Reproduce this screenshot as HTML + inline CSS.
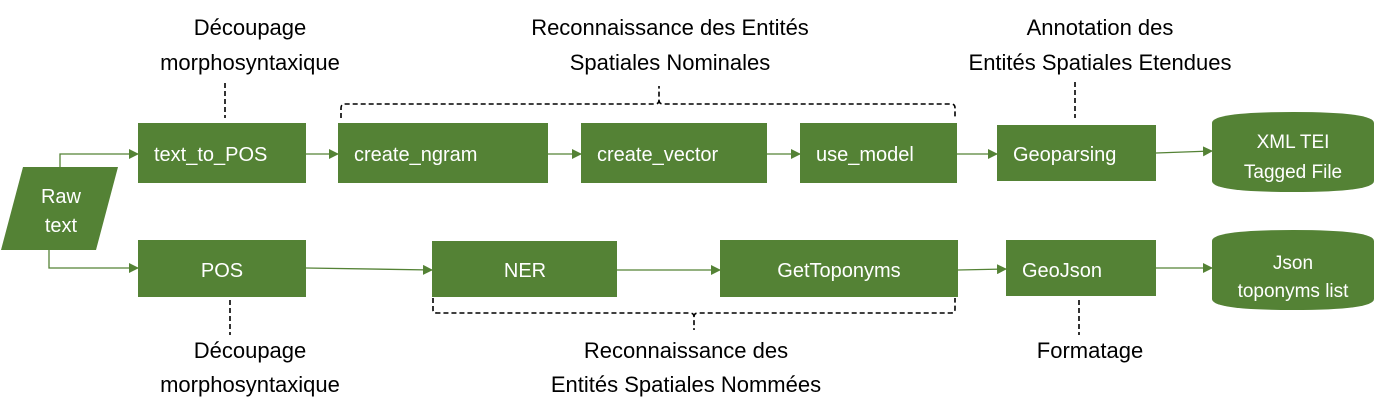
<!DOCTYPE html>
<html><head><meta charset="utf-8"><style>
html,body{margin:0;padding:0;background:#fff;}
svg{display:block;}
text{font-family:"Liberation Sans",sans-serif;}
.b{fill:#548235;}
.w{fill:#fff;font-size:20px;}
.l{fill:#000;font-size:22px;text-anchor:middle;}
.c{stroke:#548235;stroke-width:1.3;fill:none;}
.d{stroke:#000;stroke-width:1.6;fill:none;stroke-dasharray:5,3;}
</style></head><body>
<svg width="1374" height="419" viewBox="0 0 1374 419">
<defs><marker id="a" markerWidth="10" markerHeight="10" refX="9" refY="5" orient="auto" markerUnits="userSpaceOnUse"><path d="M0,0 L10,5 L0,10 Z" fill="#548235"/></marker></defs>
<text class="l" x="250" y="35">Découpage</text>
<text class="l" x="250" y="70">morphosyntaxique</text>
<text class="l" x="670" y="35">Reconnaissance des Entités</text>
<text class="l" x="670" y="70">Spatiales Nominales</text>
<text class="l" x="1100" y="35">Annotation des</text>
<text class="l" x="1100" y="70">Entités Spatiales Etendues</text>
<text class="l" x="250" y="358">Découpage</text>
<text class="l" x="250" y="392">morphosyntaxique</text>
<text class="l" x="686" y="358">Reconnaissance des</text>
<text class="l" x="686" y="392">Entités Spatiales Nommées</text>
<text class="l" x="1090" y="358">Formatage</text>
<path class="d" d="M225,83 V118"/>
<path class="d" d="M1075,82 V118"/>
<path class="d" d="M230,300 V335"/>
<path class="d" d="M1079,300 V335"/>
<path class="d" d="M341,118 V108 Q341,104 345,104 H655 Q659,104 659,100 V86 M659,100 Q659,104 663,104 H951 Q955,104 955,108 V118"/>
<path class="d" d="M433,298 V310 Q433,313 437,313 H690 Q694,313 694,317 V330 M694,317 Q694,313 698,313 H951 Q955,313 955,309 V298"/>
<path class="c" d="M60,167 V154 H138" marker-end="url(#a)"/>
<path class="c" d="M49,250 V268 H138" marker-end="url(#a)"/>
<path class="c" d="M306,154 H338" marker-end="url(#a)"/>
<path class="c" d="M548,154 H581" marker-end="url(#a)"/>
<path class="c" d="M767,154 H800" marker-end="url(#a)"/>
<path class="c" d="M957,154 H997" marker-end="url(#a)"/>
<path class="c" d="M1156,153 L1212,151" marker-end="url(#a)"/>
<path class="c" d="M306,268 L432,270" marker-end="url(#a)"/>
<path class="c" d="M617,270 L720,270" marker-end="url(#a)"/>
<path class="c" d="M958,270 L1006,269" marker-end="url(#a)"/>
<path class="c" d="M1156,268 H1212" marker-end="url(#a)"/>
<polygon class="b" points="23,167 118,167 96,250 1,250"/>
<text class="w" x="61" y="203" text-anchor="middle">Raw</text>
<text class="w" x="61" y="232" text-anchor="middle">text</text>
<rect class="b" x="138" y="123" width="168" height="60"/><text class="w" x="154" y="161">text_to_POS</text>
<rect class="b" x="338" y="123" width="210" height="60"/><text class="w" x="354" y="161">create_ngram</text>
<rect class="b" x="581" y="123" width="186" height="60"/><text class="w" x="597" y="161">create_vector</text>
<rect class="b" x="800" y="123" width="157" height="60"/><text class="w" x="816" y="161">use_model</text>
<rect class="b" x="997" y="125" width="159" height="56"/><text class="w" x="1013" y="161">Geoparsing</text>
<rect class="b" x="138" y="240" width="168" height="57"/><text class="w" x="222" y="277" text-anchor="middle">POS</text>
<rect class="b" x="432" y="241" width="185" height="56"/><text class="w" x="525" y="277" text-anchor="middle">NER</text>
<rect class="b" x="720" y="240" width="238" height="57"/><text class="w" x="839" y="277" text-anchor="middle">GetToponyms</text>
<rect class="b" x="1006" y="240" width="150" height="56"/><text class="w" x="1022" y="277">GeoJson</text>
<path class="b" d="M1212,123 Q1212,112 1293,112 Q1374,112 1374,123 V181 Q1374,192 1293,192 Q1212,192 1212,181 Z"/>
<text class="w" x="1293" y="148" text-anchor="middle" style="font-size:19px">XML TEI</text>
<text class="w" x="1293" y="178" text-anchor="middle" style="font-size:19px">Tagged File</text>
<path class="b" d="M1212,241 Q1212,230 1293,230 Q1374,230 1374,241 V299 Q1374,310 1293,310 Q1212,310 1212,299 Z"/>
<text class="w" x="1293" y="269" text-anchor="middle" style="font-size:19px">Json</text>
<text class="w" x="1293" y="297" text-anchor="middle" style="font-size:19px">toponyms list</text>
</svg>
</body></html>
